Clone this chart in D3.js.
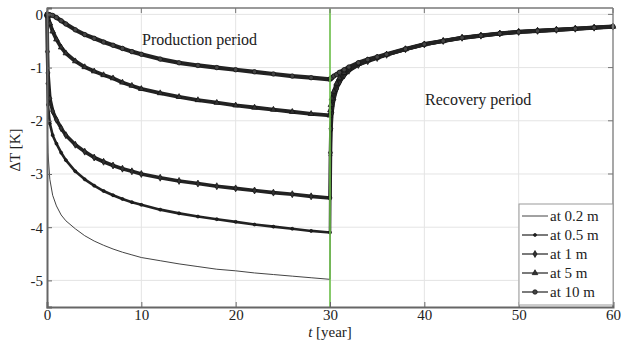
<!DOCTYPE html>
<html>
<head>
<meta charset="utf-8">
<script src="https://cdn.jsdelivr.net/npm/d3@7"></script>
<style>
  body { margin: 0; background: #fff; }
  svg text { font-family: "Liberation Serif", "DejaVu Serif", serif; fill: #222; }
</style>
</head>
<body>
<div id="chart"></div>
<script>
// time axis (years): production 0-30, recovery 30-60
const years = [0, 0.05, 0.1, 0.3, 0.6, 1, 1.5, 2, 3, 4, 5, 6, 7, 8, 9, 10, 12, 14, 16, 18, 20, 22, 24, 26, 28, 30,
  30.05, 30.1, 30.2, 30.4, 30.7, 31, 31.5, 32, 33, 34, 35, 36, 38, 40, 42, 44, 46, 48, 50, 52, 54, 56, 58, 60];

// temperature change dT [K]
const at02 = [0, -2.3, -2.6, -3.1, -3.4, -3.6, -3.77, -3.88, -4.03, -4.16, -4.26, -4.34, -4.41, -4.47, -4.52, -4.57, -4.63, -4.69, -4.74, -4.79, -4.82, -4.86, -4.89, -4.92, -4.95, -4.98,
  -2.7, -2.2, -1.9, -1.62, -1.41, -1.29, -1.16, -1.07, -0.96, -0.88, -0.82, -0.76, -0.655, -0.565, -0.5, -0.44, -0.4, -0.36, -0.33, -0.31, -0.29, -0.27, -0.25, -0.23];
const at05 = [0, -1.3, -1.7, -2.05, -2.27, -2.43, -2.6, -2.74, -2.95, -3.1, -3.22, -3.32, -3.4, -3.47, -3.53, -3.58, -3.67, -3.74, -3.8, -3.85, -3.9, -3.95, -3.99, -4.03, -4.07, -4.1,
  -2.65, -2.18, -1.86, -1.6, -1.4, -1.28, -1.15, -1.06, -0.95, -0.88, -0.82, -0.76, -0.655, -0.565, -0.5, -0.44, -0.4, -0.36, -0.33, -0.31, -0.29, -0.27, -0.25, -0.23];
const at1 = [0, -0.7, -1.1, -1.58, -1.82, -1.98, -2.14, -2.27, -2.45, -2.58, -2.69, -2.77, -2.84, -2.9, -2.95, -3.0, -3.07, -3.13, -3.18, -3.23, -3.27, -3.31, -3.35, -3.38, -3.42, -3.45,
  -2.6, -2.15, -1.85, -1.6, -1.4, -1.28, -1.15, -1.06, -0.95, -0.88, -0.82, -0.76, -0.655, -0.565, -0.5, -0.44, -0.4, -0.36, -0.33, -0.31, -0.29, -0.27, -0.25, -0.23];
const at5 = [0, -0.01, -0.03, -0.17, -0.32, -0.47, -0.62, -0.73, -0.88, -0.99, -1.07, -1.14, -1.2, -1.28, -1.34, -1.4, -1.48, -1.55, -1.61, -1.66, -1.71, -1.75, -1.79, -1.83, -1.87, -1.9,
  -1.8, -1.7, -1.58, -1.45, -1.3, -1.2, -1.1, -1.03, -0.93, -0.86, -0.81, -0.755, -0.655, -0.565, -0.5, -0.44, -0.4, -0.36, -0.33, -0.31, -0.29, -0.27, -0.25, -0.23];
const at10 = [0, 0, 0, -0.005, -0.02, -0.06, -0.12, -0.18, -0.29, -0.38, -0.45, -0.52, -0.58, -0.64, -0.7, -0.75, -0.84, -0.91, -0.96, -1.0, -1.04, -1.08, -1.12, -1.16, -1.19, -1.22,
  -1.21, -1.2, -1.19, -1.16, -1.13, -1.09, -1.04, -0.99, -0.91, -0.85, -0.8, -0.75, -0.65, -0.56, -0.5, -0.44, -0.4, -0.36, -0.33, -0.31, -0.29, -0.27, -0.25, -0.23];

const seriesNames = ["at 0.2 m", "at 0.5 m", "at 1 m", "at 5 m", "at 10 m"];
const seriesValues = [at02, at05, at1, at5, at10];
const xTicks = [0, 10, 20, 30, 40, 50, 60];
const yTicks = [0, -1, -2, -3, -4, -5];

const W = 621, H = 351;
const margin = {top: 8, right: 8, bottom: 44, left: 47};
const innerW = W - margin.left - margin.right;
const innerH = H - margin.top - margin.bottom;

const svg = d3.select("#chart").append("svg")
  .attr("width", W).attr("height", H)
  .attr("font-family", "Liberation Serif");
const g = svg.append("g").attr("transform", `translate(${margin.left},${margin.top})`);

const x = d3.scaleLinear().domain([0, 60]).range([0, innerW]);
const y = d3.scaleLinear().domain([-5.5, 0.12]).range([innerH, 0]);

// grid
g.append("g").selectAll("line").data(xTicks.slice(1, -1)).join("line")
  .attr("x1", d => x(d)).attr("x2", d => x(d)).attr("y1", 0).attr("y2", innerH)
  .attr("stroke", "#e4e4e4").attr("stroke-width", 1);
g.append("g").selectAll("line").data(yTicks).join("line")
  .attr("y1", d => y(d)).attr("y2", d => y(d)).attr("x1", 0).attr("x2", innerW)
  .attr("stroke", "#e4e4e4").attr("stroke-width", 1);

// marker styles per series
const styles = [
  {width: 1, color: "#444", symbol: null},
  {width: 2.6, color: "#222", symbol: d3.symbolCircle, size: 7, fill: "#222"},
  {width: 3.6, color: "#222", symbol: d3.symbolDiamond, size: 14, fill: "#333"},
  {width: 3.8, color: "#222", symbol: d3.symbolTriangle, size: 14, fill: "#333"},
  {width: 4.2, color: "#222", symbol: d3.symbolCircle, size: 16, fill: "#444"}
];

const line = d3.line().x((d, i) => x(years[i])).y(d => y(d));

seriesValues.forEach((vals, k) => {
  const st = styles[k];
  g.append("path").datum(vals)
    .attr("fill", "none").attr("stroke", st.color)
    .attr("stroke-width", st.width).attr("stroke-linejoin", "round")
    .attr("d", line);
  if (st.symbol) {
    g.append("g").selectAll("path").data(vals).join("path")
      .attr("transform", (d, i) => `translate(${x(years[i])},${y(d)})`)
      .attr("d", d3.symbol().type(st.symbol).size(st.size))
      .attr("fill", st.fill).attr("stroke", "#111").attr("stroke-width", 0.7);
  }
});

// end of production marker
g.append("line")
  .attr("x1", x(30)).attr("x2", x(30)).attr("y1", 0).attr("y2", innerH)
  .attr("stroke", "#6cc04a").attr("stroke-width", 1.6);

// frame: axes plus box with inward ticks
g.append("line").attr("x1", 0).attr("x2", innerW).attr("y1", 0).attr("y2", 0)
  .attr("stroke", "#9a9a9a").attr("stroke-width", 2);
g.append("line").attr("x1", innerW).attr("x2", innerW).attr("y1", 0).attr("y2", innerH)
  .attr("stroke", "#8a8a8a").attr("stroke-width", 1.5);

const xAxis = g.append("g").attr("transform", `translate(0,${innerH})`)
  .call(d3.axisBottom(x).tickValues(xTicks).tickSize(-5).tickPadding(2).tickFormat(d3.format("d")));
const yAxis = g.append("g")
  .call(d3.axisLeft(y).tickValues(yTicks).tickSize(-5).tickPadding(4).tickFormat(d => d === 0 ? "0" : "-" + Math.abs(d)));
[xAxis, yAxis].forEach(a => {
  a.attr("font-family", "Liberation Serif");
  a.select(".domain").attr("stroke", "#666").attr("stroke-width", 2);
  a.selectAll(".tick line").attr("stroke", "#666");
  a.selectAll(".tick text").style("font-size", "15px").attr("fill", "#222");
});
// ticks on top and right edges
g.append("g").selectAll("line").data(xTicks).join("line")
  .attr("x1", d => x(d)).attr("x2", d => x(d)).attr("y1", 0).attr("y2", 5).attr("stroke", "#777");
g.append("g").selectAll("line").data(yTicks).join("line")
  .attr("y1", d => y(d)).attr("y2", d => y(d)).attr("x1", innerW - 5).attr("x2", innerW).attr("stroke", "#777");

// annotations
g.append("text").attr("x", 95).attr("y", 37).style("font-size", "16px").text("Production period");
g.append("text").attr("x", 378).attr("y", 97).style("font-size", "16px").text("Recovery period");

// axis titles
const xl = svg.append("text").attr("x", margin.left + x(30)).attr("y", 337)
  .attr("text-anchor", "middle").style("font-size", "15px");
xl.append("tspan").style("font-style", "italic").text("t");
xl.append("tspan").text(" [year]");
svg.append("text").attr("transform", "translate(20,150) rotate(-90)")
  .attr("text-anchor", "middle").style("font-size", "15px").text("ΔT [K]");

// legend
const lg = g.append("g").attr("transform", `translate(${innerW - 94},${innerH - 103})`);
lg.append("rect").attr("width", 94).attr("height", 101)
  .attr("fill", "#fff").attr("stroke", "#9a9a9a").attr("stroke-width", 1);
seriesNames.forEach((name, k) => {
  const st = styles[k];
  const row = lg.append("g").attr("transform", `translate(0,${12 + k * 19})`);
  row.append("line").attr("x1", 3).attr("x2", 29).attr("stroke", st.color)
    .attr("stroke-width", k === 0 ? 1 : 1.2);
  if (st.symbol) {
    row.append("path").attr("transform", "translate(16,0)")
      .attr("d", d3.symbol().type(st.symbol).size(st.size))
      .attr("fill", st.fill).attr("stroke", "#111").attr("stroke-width", 0.7);
  }
  row.append("text").attr("x", 31).attr("dy", "0.35em").style("font-size", "15px").text(name);
});
</script>
</body>
</html>
